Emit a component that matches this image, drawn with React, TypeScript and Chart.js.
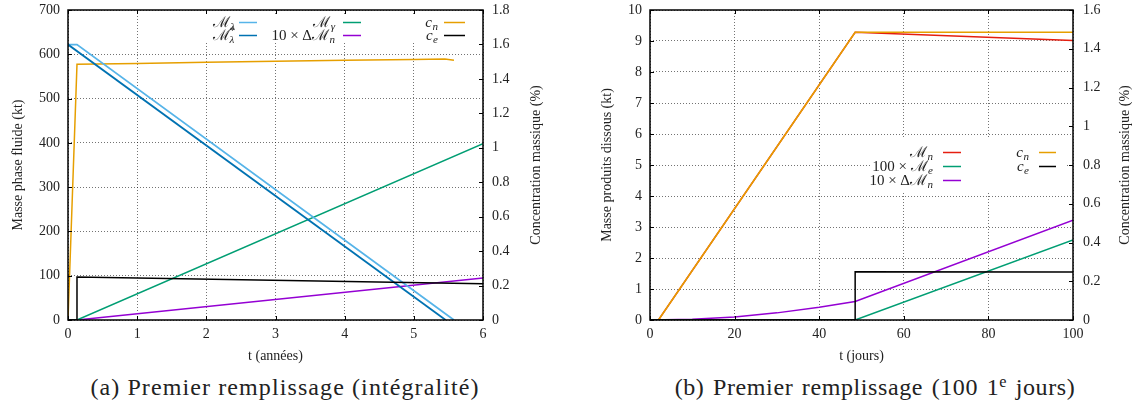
import React, { useEffect, useRef } from 'react';
import { Chart, registerables } from 'chart.js';

Chart.register(...registerables);

const SERIF = "'Liberation Serif', 'DejaVu Serif', serif";

// ---------- (a) Premier remplissage (intégralité) ----------
const yearTicks = [0, 1, 2, 3, 4, 5, 6];
const massTicksA = [0, 100, 200, 300, 400, 500, 600, 700];
const concTicksA = [0, 0.2, 0.4, 0.6, 0.8, 1, 1.2, 1.4, 1.6, 1.8];

const yearsLambda = [0, 0.13, 5.58];
const massLambda = [622, 622, 0];
const yearsLambdaStar = [0, 5.46];
const massLambdaStar = [622, 0];
const yearsGamma = [0, 0.13, 6];
const massGamma = [0, 0, 398];
const yearsDeltaA = [0, 0.13, 6];
const deltaMassA = [0, 0, 95];
const yearsCnA = [0, 0.13, 1, 2, 3, 4, 5, 5.45, 5.58];
const concCnA = [0, 1.485, 1.49, 1.497, 1.503, 1.508, 1.513, 1.515, 1.508];
const yearsCeA = [0, 0.13, 0.13, 6];
const concCeA = [0, 0, 0.25, 0.21];

// ---------- (b) Premier remplissage (100 premiers jours) ----------
const dayTicks = [0, 20, 40, 60, 80, 100];
const massTicksB = [0, 1, 2, 3, 4, 5, 6, 7, 8, 9, 10];
const concTicksB = [0, 0.2, 0.4, 0.6, 0.8, 1, 1.2, 1.4, 1.6];

const daysMn = [2, 48.5, 100];
const massMn = [0, 9.28, 9.02];
const daysMe = [0, 48.5, 100];
const massMe100 = [0, 0, 2.58];
const daysDeltaB = [0, 10, 20, 30, 40, 48.5, 100];
const deltaMassB = [0, 0.025, 0.1, 0.23, 0.41, 0.6, 3.22];
const daysCnB = [2, 48.5, 100];
const concCnB = [0, 1.485, 1.485];
const daysCeB = [0, 48.5, 48.5, 100];
const concCeB = [0, 0, 0.249, 0.248];

const C_LBLUE = '#56B4E9';
const C_DBLUE = '#0072B2';
const C_GREEN = '#009E73';
const C_PURPLE = '#9400D3';
const C_ORANGE = '#E69F00';
const C_BLACK = '#000000';
const C_RED = '#E51E10';

const pts = (xs: number[], ys: number[]) => xs.map((x, i) => ({ x, y: ys[i] }));
const fixedTicks = (values: number[]) => (scale: any) => {
  scale.ticks = values.map((v) => ({ value: v }));
};
const fmt = (v: any) => String(Math.round(Number(v) * 100) / 100);

const fitWidth = (w: number) => (s: any) => {
  s.width = w;
  s.paddingTop = 0;
  s.paddingBottom = 0;
};
const fitHeight = (h: number) => (s: any) => {
  s.height = h;
  s.paddingLeft = 0;
  s.paddingRight = 0;
};

type Seg = { t: string; k: 'base' | 'sub' | 'sup' };
function parseMath(s: string): Seg[] {
  const out: Seg[] = [];
  let i = 0;
  while (i < s.length) {
    const c = s[i];
    if (c === '_' || c === '^') {
      let t: string;
      if (s[i + 1] === '{') {
        const j = s.indexOf('}', i);
        t = s.slice(i + 2, j);
        i = j + 1;
      } else {
        t = s[i + 1];
        i += 2;
      }
      out.push({ t, k: c === '_' ? 'sub' : 'sup' });
    } else {
      out.push({ t: c, k: 'base' });
      i++;
    }
  }
  return out;
}

function segFont(seg: Seg, size: number) {
  const sz = seg.k === 'base' ? size : Math.round(size * 0.7);
  const it = /[a-zA-Zλγ]/.test(seg.t) ? 'italic ' : '';
  return `${it}${sz}px ${SERIF}`;
}

function layoutRich(ctx: CanvasRenderingContext2D, segs: Seg[], size: number) {
  let x = 0;
  let supStart = -1;
  let supEnd = 0;
  const placed: { seg: Seg; x: number }[] = [];
  segs.forEach((seg) => {
    ctx.font = segFont(seg, size);
    const w = ctx.measureText(seg.t).width;
    if (seg.k === 'sup') {
      supStart = x;
      placed.push({ seg, x });
      x += w;
      supEnd = x;
    } else if (seg.k === 'sub' && supStart >= 0) {
      placed.push({ seg, x: supStart });
      x = Math.max(supEnd, supStart + w);
      supStart = -1;
    } else {
      placed.push({ seg, x: seg.k === 'sub' ? x + 0.5 : x });
      x += w + (seg.k === 'sub' ? 0.5 : 0);
      supStart = -1;
    }
  });
  return { placed, width: x };
}

const richLegend = {
  id: 'richLegend',
  afterDatasetsDraw(chart: any) {
    const o = chart.options.plugins.richLegend;
    if (!o) return;
    const ctx: CanvasRenderingContext2D = chart.ctx;
    ctx.save();
    if (o.box) {
      ctx.fillStyle = '#ffffff';
      ctx.fillRect(o.box[0], o.box[1], o.box[2] - o.box[0], o.box[3] - o.box[1]);
    }
    o.entries.forEach((e: any) => {
      const ds = chart.data.datasets[e.ds];
      const col = o.cols[e.col];
      const y = o.rows[e.row];
      const { placed, width } = layoutRich(ctx, parseMath(ds.label), o.size);
      const x0 = col.textRight - width;
      const base = y + o.size * 0.3;
      ctx.fillStyle = '#222';
      ctx.textBaseline = 'alphabetic';
      ctx.textAlign = 'left';
      placed.forEach(({ seg, x }) => {
        ctx.font = segFont(seg, o.size);
        const dy = seg.k === 'sub' ? o.size * 0.22 : seg.k === 'sup' ? -o.size * 0.4 : 0;
        ctx.fillText(seg.t, x0 + x, base + dy);
      });
      ctx.strokeStyle = ds.borderColor;
      ctx.lineWidth = 1.5;
      ctx.beginPath();
      ctx.moveTo(col.s0, y + 0.5);
      ctx.lineTo(col.s1, y + 0.5);
      ctx.stroke();
    });
    ctx.restore();
  },
};

const frameTicks = {
  id: 'frameTicks',
  afterDraw(chart: any) {
    const { ctx, chartArea: a, scales } = chart;
    const L = 4;
    ctx.save();
    ctx.strokeStyle = '#000';
    ctx.lineWidth = 1;
    ctx.beginPath();
    scales.x.ticks.forEach((t: any) => {
      const px = Math.round(scales.x.getPixelForValue(t.value)) + 0.5;
      ctx.moveTo(px, a.bottom);
      ctx.lineTo(px, a.bottom - L);
      ctx.moveTo(px, a.top);
      ctx.lineTo(px, a.top + L);
    });
    scales.y.ticks.forEach((t: any) => {
      const py = Math.round(scales.y.getPixelForValue(t.value)) + 0.5;
      ctx.moveTo(a.left, py);
      ctx.lineTo(a.left + L, py);
    });
    scales.y2.ticks.forEach((t: any) => {
      const py = Math.round(scales.y2.getPixelForValue(t.value)) + 0.5;
      ctx.moveTo(a.right, py);
      ctx.lineTo(a.right - L, py);
    });
    ctx.stroke();
    ctx.lineWidth = 1.5;
    ctx.strokeRect(a.left, a.top, a.right - a.left, a.bottom - a.top);

    // right axis title, read bottom-to-top like the left one
    const o = chart.options.plugins.rightTitle;
    if (o) {
      ctx.save();
      ctx.translate(o.x, (a.top + a.bottom) / 2);
      ctx.rotate(-Math.PI / 2);
      ctx.font = `${o.size}px ${SERIF}`;
      ctx.fillStyle = '#222';
      ctx.textAlign = 'center';
      ctx.textBaseline = 'middle';
      ctx.fillText(o.text, 0, 0);
      ctx.restore();
    }
    ctx.restore();
  },
};

const TICK_FONT = { family: SERIF, size: 14 };
const TITLE_FONT = { family: SERIF, size: 14 };
const GRID = { color: 'rgba(0,0,0,0.55)', lineWidth: 1, drawTicks: false, borderDash: [1, 2] };
const BORDER = { display: false, dash: [1, 2] };

function line(label: string, xs: number[], ys: number[], color: string, axis: string, order: number, width = 1.5) {
  return {
    label,
    data: pts(xs, ys),
    borderColor: color,
    backgroundColor: color,
    borderWidth: width,
    pointRadius: 0,
    fill: false,
    tension: 0,
    yAxisID: axis,
    order,
  };
}

function configA(): any {
  return {
    type: 'line',
    data: {
      datasets: [
        line('ℳ_λ', yearsLambda, massLambda, C_LBLUE, 'y', 3, 1.8),
        line('ℳ^*_λ', yearsLambdaStar, massLambdaStar, C_DBLUE, 'y', 2, 1.8),
        line('ℳ_γ', yearsGamma, massGamma, C_GREEN, 'y', 4),
        line('10 × Δℳ_n', yearsDeltaA, deltaMassA, C_PURPLE, 'y', 5),
        line('c_n', yearsCnA, concCnA, C_ORANGE, 'y2', 6),
        line('c_e', yearsCeA, concCeA, C_BLACK, 'y2', 1),
      ],
    },
    plugins: [richLegend, frameTicks],
    options: {
      animation: false,
      responsive: false,
      maintainAspectRatio: false,
      layout: { padding: { top: 10, left: 0, right: 0, bottom: 0 } },
      plugins: {
        legend: { display: false },
        tooltip: { enabled: false },
        rightTitle: { text: 'Concentration massique (%)', x: 536, size: 14 },
        richLegend: {
          size: 15,
          box: [195, 15, 472, 42],
          cols: [
            { textRight: 235, s0: 239, s1: 257 },
            { textRight: 335, s0: 343, s1: 361 },
            { textRight: 438, s0: 444, s1: 465 },
          ],
          rows: [22, 35],
          entries: [
            { ds: 0, col: 0, row: 0 },
            { ds: 1, col: 0, row: 1 },
            { ds: 2, col: 1, row: 0 },
            { ds: 3, col: 1, row: 1 },
            { ds: 4, col: 2, row: 0 },
            { ds: 5, col: 2, row: 1 },
          ],
        },
      },
      scales: {
        x: {
          type: 'linear',
          min: 0,
          max: 6,
          afterBuildTicks: fixedTicks(yearTicks),
          afterFit: fitHeight(50),
          grid: GRID,
          border: BORDER,
          ticks: { font: TICK_FONT, color: '#222', padding: 6, callback: fmt, maxRotation: 0 },
          title: { display: true, text: 't (années)', font: TITLE_FONT, color: '#222', padding: { top: 0, bottom: 5 } },
        },
        y: {
          position: 'left',
          min: 0,
          max: 700,
          afterBuildTicks: fixedTicks(massTicksA),
          afterFit: fitWidth(68),
          grid: GRID,
          border: BORDER,
          ticks: { font: TICK_FONT, color: '#222', padding: 8, callback: fmt },
          title: { display: true, text: 'Masse phase fluide (kt)', font: TITLE_FONT, color: '#222', padding: { top: 10, bottom: 0 } },
        },
        y2: {
          position: 'right',
          min: 0,
          max: 1.8,
          afterBuildTicks: fixedTicks(concTicksA),
          afterFit: fitWidth(83),
          grid: { display: false, drawTicks: false },
          border: { display: false },
          ticks: { font: TICK_FONT, color: '#222', padding: 9, callback: fmt },
        },
      },
    },
  };
}

function configB(): any {
  return {
    type: 'line',
    data: {
      datasets: [
        line('ℳ_n', daysMn, massMn, C_RED, 'y', 5),
        line('100 × ℳ_e', daysMe, massMe100, C_GREEN, 'y', 3),
        line('10 × Δℳ_n', daysDeltaB, deltaMassB, C_PURPLE, 'y', 4),
        line('c_n', daysCnB, concCnB, C_ORANGE, 'y2', 2),
        line('c_e', daysCeB, concCeB, C_BLACK, 'y2', 1),
      ],
    },
    plugins: [richLegend, frameTicks],
    options: {
      animation: false,
      responsive: false,
      maintainAspectRatio: false,
      layout: { padding: { top: 10, left: 0, right: 0, bottom: 0 } },
      plugins: {
        legend: { display: false },
        tooltip: { enabled: false },
        rightTitle: { text: 'Concentration massique (%)', x: 559, size: 14 },
        richLegend: {
          size: 15,
          box: [304, 139, 500, 192],
          cols: [
            { textRight: 367, s0: 377, s1: 395 },
            { textRight: 463, s0: 473, s1: 490 },
          ],
          rows: [152, 166, 180],
          entries: [
            { ds: 0, col: 0, row: 0 },
            { ds: 1, col: 0, row: 1 },
            { ds: 2, col: 0, row: 2 },
            { ds: 3, col: 1, row: 0 },
            { ds: 4, col: 1, row: 1 },
          ],
        },
      },
      scales: {
        x: {
          type: 'linear',
          min: 0,
          max: 100,
          afterBuildTicks: fixedTicks(dayTicks),
          afterFit: fitHeight(50),
          grid: GRID,
          border: BORDER,
          ticks: { font: TICK_FONT, color: '#222', padding: 6, callback: fmt, maxRotation: 0 },
          title: { display: true, text: 't (jours)', font: TITLE_FONT, color: '#222', padding: { top: 0, bottom: 5 } },
        },
        y: {
          position: 'left',
          min: 0,
          max: 10,
          afterBuildTicks: fixedTicks(massTicksB),
          afterFit: fitWidth(84),
          grid: GRID,
          border: BORDER,
          ticks: { font: TICK_FONT, color: '#222', padding: 8, callback: fmt },
          title: { display: true, text: 'Masse produits dissous (kt)', font: TITLE_FONT, color: '#222', padding: { top: 33, bottom: 0 } },
        },
        y2: {
          position: 'right',
          min: 0,
          max: 1.6,
          afterBuildTicks: fixedTicks(concTicksB),
          afterFit: fitWidth(59),
          grid: { display: false, drawTicks: false },
          border: { display: false },
          ticks: { font: TICK_FONT, color: '#222', padding: 10, callback: fmt },
        },
      },
    },
  };
}

function ChartCanvas({ make, left }: { make: () => any; left: number }) {
  const ref = useRef<HTMLCanvasElement>(null);
  useEffect(() => {
    const chart = new Chart(ref.current as HTMLCanvasElement, make());
    return () => chart.destroy();
  }, []);
  return (
    <canvas
      ref={ref}
      width={566}
      height={370}
      style={{ position: 'absolute', left, top: 0, width: 566, height: 370 }}
    />
  );
}

const captionStyle: React.CSSProperties = {
  position: 'absolute',
  top: 375,
  width: 600,
  textAlign: 'center',
  fontFamily: SERIF,
  fontSize: 24,
  lineHeight: '24px',
  color: '#222',
  whiteSpace: 'nowrap',
};

export default function App() {
  return (
    <div style={{ position: 'fixed', left: 0, top: 0, width: 1132, height: 410, background: '#fff', overflow: 'hidden' }}>
      <ChartCanvas make={configA} left={0} />
      <ChartCanvas make={configB} left={566} />
      <div style={{ ...captionStyle, left: 285 - 300, letterSpacing: '1.1px' }}>(a) Premier remplissage (intégralité)</div>
      <div style={{ ...captionStyle, left: 875 - 300, letterSpacing: '0.6px', wordSpacing: '2px' }}>
        (b) Premier remplissage (100 1<sup style={{ fontSize: '0.68em', lineHeight: 0, verticalAlign: '0.5em' }}>e</sup> jours)
      </div>
    </div>
  );
}
